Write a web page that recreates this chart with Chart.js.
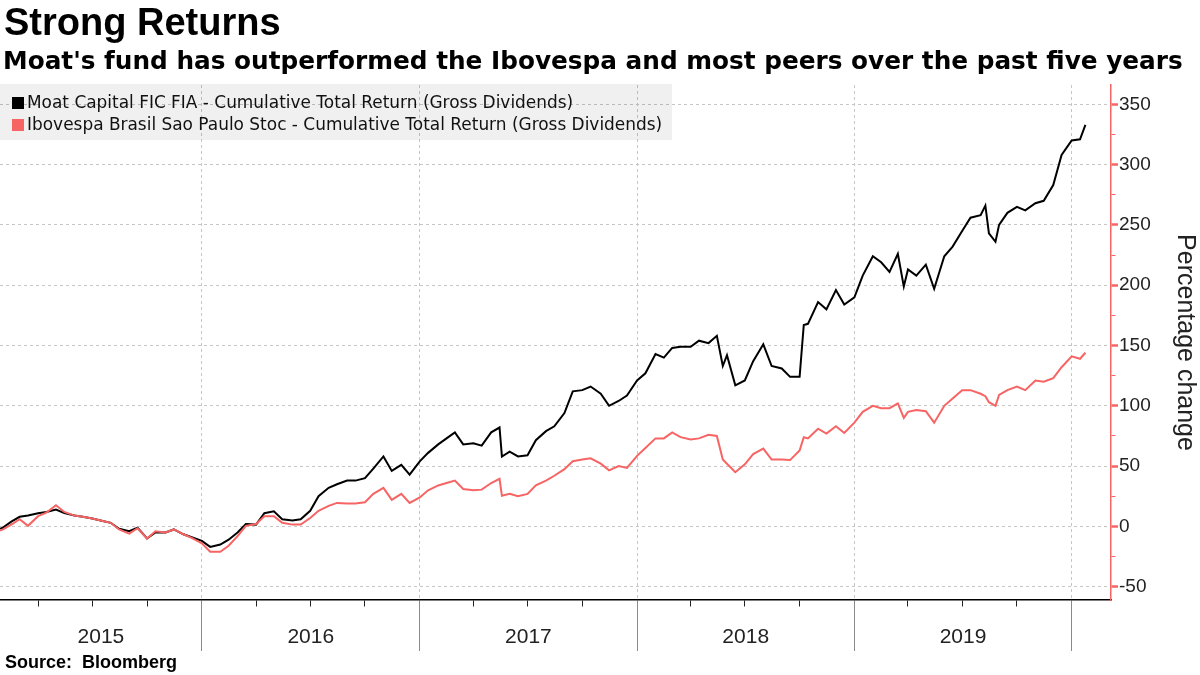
<!DOCTYPE html>
<html>
<head>
<meta charset="utf-8">
<script src="https://cdn.jsdelivr.net/npm/chart.js@4.4.1/dist/chart.umd.min.js"></script>
<style>
  html, body { margin: 0; padding: 0; background: #fff; }
  #wrap { position: relative; width: 1200px; height: 675px; overflow: hidden; font-family: "Liberation Sans", Arial, sans-serif; color: #000; }
  #chart { position: absolute; left: 0; top: 0; }
  #title { position: absolute; left: 4px; top: 0; font-size: 38px; font-weight: bold; line-height: 44px; white-space: nowrap; }
  #subtitle { position: absolute; left: 3px; top: 46px; font-family: "DejaVu Sans", sans-serif; font-size: 23px; font-weight: bold; line-height: 30px; white-space: nowrap; }
  #legend { position: absolute; left: 0; top: 84px; width: 672px; height: 56px; background: rgba(0,0,0,0.06); font-family: "DejaVu Sans", sans-serif; font-size: 16px; color: #111; }
  #legend .item { position: absolute; left: 12px; height: 20px; line-height: 20px; white-space: nowrap; }
  #legend .sw { display: inline-block; width: 12px; height: 12px; margin-right: 3px; vertical-align: -1px; }
  #source { position: absolute; left: 5px; top: 652px; font-size: 18px; font-weight: bold; white-space: pre; }
</style>
</head>
<body>
<div id="wrap">
  <canvas id="chart" width="1200" height="675"></canvas>
  <div id="title">Strong Returns</div>
  <div id="subtitle">Moat's fund has outperformed the Ibovespa and most peers over the past five years</div>
  <div id="legend"></div>
  <div id="source">Source:  Bloomberg</div>
</div>
<script>
// half-monthly readings, plus a few extra days around sharp moves
const dates = [
  "2015-01-27","2015-02-01","2015-02-15","2015-03-01","2015-03-15","2015-04-01","2015-04-15","2015-05-01","2015-05-15","2015-06-01","2015-06-15","2015-07-01","2015-07-15","2015-08-01","2015-08-15","2015-09-01","2015-09-15","2015-10-01","2015-10-15","2015-11-01","2015-11-15","2015-12-01","2015-12-15",
  "2016-01-01","2016-01-15","2016-02-01","2016-02-15","2016-03-01","2016-03-15","2016-04-01","2016-04-15","2016-05-01","2016-05-15","2016-06-01","2016-06-15","2016-07-01","2016-07-15","2016-08-01","2016-08-15","2016-09-01","2016-09-15","2016-10-01","2016-10-15","2016-11-01","2016-11-15","2016-12-01","2016-12-15",
  "2017-01-01","2017-01-15","2017-02-01","2017-02-15","2017-03-01","2017-03-15","2017-04-01","2017-04-15","2017-05-01","2017-05-15","2017-05-19","2017-06-01","2017-06-15","2017-07-01","2017-07-15","2017-08-01","2017-08-15","2017-09-01","2017-09-15","2017-10-01","2017-10-15","2017-11-01","2017-11-15","2017-12-01","2017-12-15",
  "2018-01-01","2018-01-15","2018-02-01","2018-02-15","2018-03-01","2018-03-15","2018-04-01","2018-04-15","2018-05-01","2018-05-15","2018-05-25","2018-06-01","2018-06-15","2018-07-01","2018-07-15","2018-08-01","2018-08-15","2018-09-01","2018-09-15","2018-10-01","2018-10-08","2018-10-15","2018-11-01","2018-11-15","2018-12-01","2018-12-15",
  "2019-01-01","2019-01-15","2019-02-01","2019-02-15","2019-03-01","2019-03-15","2019-03-25","2019-04-01","2019-04-15","2019-05-01","2019-05-15","2019-06-01","2019-06-15","2019-07-01","2019-07-15","2019-08-01","2019-08-09","2019-08-15","2019-08-26","2019-09-01","2019-09-15","2019-10-01","2019-10-15","2019-11-01","2019-11-15","2019-12-01","2019-12-15",
  "2020-01-01","2020-01-15","2020-01-24"
];
const moat = [
  -2, -1, 4, 8, 9, 11, 12, 14, 11, 9, 8, 6.5, 5, 3, -2, -4, -1, -10, -5, -5, -2.5, -6.5, -9,
  -12, -17, -15, -11, -5, 2, 1.5, 11, 12.5, 6, 5, 6, 13, 25, 32, 35, 38, 38, 40, 48, 58, 46, 51, 43,
  54, 61, 68, 73, 78, 68, 69, 67, 78, 82, 58, 62, 58, 59, 71.5, 79, 83, 94, 112, 113, 116, 110, 100, 104, 108.5,
  121, 127, 143, 140, 148, 149, 149, 154, 152, 158, 133, 142, 117, 121, 137, 151, 133, 131, 124, 124, 167, 168, 186, 180, 196, 184,
  190, 208, 224, 219, 211, 226, 199, 213, 208, 217, 197, 224, 232, 245, 256, 258, 266, 243, 236, 250, 260, 265, 262, 268, 270, 283, 308,
  320, 321, 333
];
const ibov = [
  -3.5, -2.5, 1.5, 6, 0.5, 8.5, 11.5, 17.5, 12, 9, 8, 6.5, 5, 3, -2.5, -6, -1.5, -10, -4, -5, -2.5, -6.5, -9.5,
  -14, -21, -21, -16, -8, 0.5, 2, 8.5, 8.5, 3, 1.5, 1.5, 7, 13, 17, 19.5, 19, 19, 20, 27, 32, 22, 27, 19.5,
  24, 30, 34, 36, 38, 31, 30, 30.5, 36, 39.5, 25.5, 27, 25, 27, 34, 38, 42, 47.5, 54, 55.5, 56.5, 52, 46.5, 50, 48.5,
  58.5, 65, 73, 73, 78, 74, 72, 73, 76, 75, 55.5, 52, 45, 51.5, 60, 64.5, 55.5, 55.5, 55, 63, 74, 73, 81, 77, 83, 77.5,
  86, 95, 100, 98, 98, 102, 90, 95, 96.5, 95.5, 86, 100, 106, 113, 113, 110, 108, 103, 100, 109, 113, 116, 113, 121, 120, 123, 132,
  141, 139, 144
];
const seriesNames = [
  "Moat Capital FIC FIA - Cumulative Total Return (Gross Dividends)",
  "Ibovespa Brasil Sao Paulo Stoc - Cumulative Total Return (Gross Dividends)"
];
const seriesColors = ["#000000", "#f76464"];
const yearLabels = ["2015", "2016", "2017", "2018", "2019"];
const yTickLabels = [-50, 0, 50, 100, 150, 200, 250, 300, 350];

const X_MIN = Date.parse("2015-01-27"), X_MAX = Date.parse("2020-03-07");
const Y_MIN = -61, Y_MAX = 366;
const GRID = "#c6c6c6";

function pts(vals) { return dates.map((d, i) => ({ x: Date.parse(d), y: vals[i] })); }

function xTicks(axis) {
  const t = [];
  yearLabels.forEach(y => {
    const start = Date.parse(y + "-01-01"), end = Date.parse((+y + 1) + "-01-01");
    ["04", "07", "10"].forEach(m => t.push({ value: Date.parse(`${y}-${m}-01`), kind: "q" }));
    t.push({ value: (Math.max(start, X_MIN) + end) / 2, kind: "lab", yr: y });
    t.push({ value: end, kind: "yr" });
  });
  t.sort((a, b) => a.value - b.value);
  axis.ticks = t;
}
function yTicks(axis) {
  const t = [];
  yTickLabels.forEach(v => {
    t.push({ value: v, major: true });
    if (v < 350) t.push({ value: v + 25, major: false });
  });
  axis.ticks = t;
}
const kind = c => (c.tick && c.tick.kind) || "";

// shrink/grow a one-line text so it spans the width it has in the picture
function fitWidth(el, w) {
  const fs = parseFloat(getComputedStyle(el).fontSize);
  el.style.fontSize = (fs * w / el.offsetWidth).toFixed(2) + "px";
}

// legend from the dataset names
const legend = document.getElementById("legend");
legend.innerHTML = seriesNames.map((n, i) =>
  `<div class="item" style="top:${8 + i * 22}px"><span class="sw" style="background:${seriesColors[i]}"></span>${n}</div>`
).join("");
fitWidth(legend.querySelectorAll(".item")[1], 651);
legend.style.fontSize = legend.querySelectorAll(".item")[1].style.fontSize;
legend.querySelectorAll(".item")[1].style.fontSize = "";
fitWidth(document.getElementById("subtitle"), 1180);

new Chart(document.getElementById("chart"), {
  type: "line",
  data: {
    datasets: [
      { label: seriesNames[0], data: pts(moat), borderColor: seriesColors[0], borderWidth: 2, order: 1 },
      { label: seriesNames[1], data: pts(ibov), borderColor: seriesColors[1], borderWidth: 2, order: 0 }
    ]
  },
  options: {
    responsive: false,
    animation: false,
    devicePixelRatio: 1,
    layout: { padding: { top: 85, left: 0, right: 0, bottom: 15 } },
    elements: { point: { radius: 0 }, line: { tension: 0 } },
    plugins: { legend: { display: false }, tooltip: { enabled: false } },
    scales: {
      x: {
        type: "linear",
        min: X_MIN, max: X_MAX,
        afterBuildTicks: xTicks,
        afterFit: a => { a.height = 60; },
        border: { display: true, color: "#000", width: 1.5, dash: [3, 3] },
        grid: {
          color: c => kind(c) === "yr" ? GRID : "rgba(0,0,0,0)",
          tickColor: c => kind(c) === "yr" ? "#8a8a8a" : kind(c) === "q" ? "#222" : "rgba(0,0,0,0)",
          tickBorderDash: c => kind(c) === "q" ? [6, 200] : [],
          tickLength: 51,
          tickWidth: 1
        },
        ticks: {
          autoSkip: false, maxRotation: 0, padding: -26,
          color: "#222", font: { family: "Liberation Sans", size: 21 },
          callback: (v, i, ticks) => ticks[i].kind === "lab" ? ticks[i].yr : ""
        }
      },
      y: {
        position: "right",
        min: Y_MIN, max: Y_MAX,
        afterBuildTicks: yTicks,
        afterFit: a => { a.width = 89; },
        border: { display: true, color: "#f76464", width: 1.5, dash: [3, 3] },
        grid: {
          color: c => c.tick && c.tick.major ? GRID : "rgba(0,0,0,0)",
          tickColor: "#f76464",
          tickWidth: c => c.tick && c.tick.major ? 2.5 : 1,
          tickBorderDash: c => c.tick && c.tick.major ? [] : [4, 100],
          tickLength: 7
        },
        ticks: {
          padding: 1, color: "#222", font: { family: "Liberation Sans", size: 19 },
          callback: v => v % 50 === 0 ? String(v) : ""
        },
        title: {
          display: true, text: "Percentage change", color: "#222",
          font: { family: "Liberation Sans", size: 25 }, padding: { top: 0, bottom: 4 }
        }
      }
    }
  }
});
</script>
</body>
</html>
